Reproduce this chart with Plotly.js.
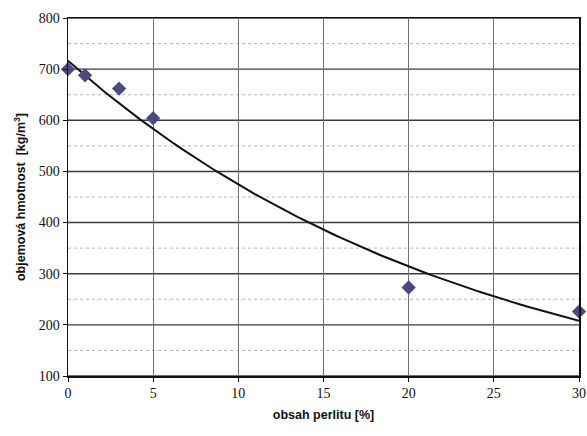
<!DOCTYPE html>
<html>
<head>
<meta charset="utf-8">
<script src="https://cdn.plot.ly/plotly-3.0.1.min.js"></script>
<style>
  html, body { margin: 0; padding: 0; background: #fff; }
  #chart { width: 587px; height: 436px; }
</style>
</head>
<body>
<div id="chart"></div>
<script>
// Measured bulk density vs. perlite content
const perliteContent = [0, 1, 3, 5, 20, 30];          // obsah perlitu [%]
const bulkDensity = [700, 688, 662, 604, 273, 226];   // objemová hmotnost [kg/m3]
const yMajorTicks = [100, 200, 300, 400, 500, 600, 700, 800];
const yMinorTicks = [150, 250, 350, 450, 550, 650, 750];

// Exponential trend line y = a * exp(b x), least squares on ln(y)
function expFit(xs, ys) {
  const n = xs.length;
  const ly = ys.map(v => Math.log(v));
  const mx = xs.reduce((s, v) => s + v, 0) / n;
  const my = ly.reduce((s, v) => s + v, 0) / n;
  let sxx = 0, sxy = 0;
  for (let i = 0; i < n; i++) {
    sxx += (xs[i] - mx) * (xs[i] - mx);
    sxy += (xs[i] - mx) * (ly[i] - my);
  }
  const b = sxy / sxx;
  const a = Math.exp(my - b * mx);
  return { a, b };
}
const fit = expFit(perliteContent, bulkDensity);
const xMin = Math.min(...perliteContent), xMax = Math.max(...perliteContent);
const trendX = [], trendY = [];
for (let i = 0; i <= 120; i++) {
  const x = xMin + (xMax - xMin) * i / 120;
  trendX.push(x);
  trendY.push(fit.a * Math.exp(fit.b * x));
}

const traces = [
  {
    x: trendX, y: trendY, type: 'scatter', mode: 'lines',
    line: { color: '#111111', width: 2 }, hoverinfo: 'skip'
  },
  {
    x: perliteContent, y: bulkDensity, type: 'scatter', mode: 'markers',
    cliponaxis: false,
    marker: { symbol: 'diamond', size: 11, color: '#4a4a7c' }
  }
];

// horizontal grid: solid lines at major ticks, dotted at the half steps
const gridShapes = [];
yMinorTicks.forEach(v => gridShapes.push({
  type: 'line', xref: 'paper', yref: 'y', x0: 0, x1: 1, y0: v, y1: v,
  layer: 'below', line: { color: '#b4b4b4', width: 1, dash: 'dot' }
}));
yMajorTicks.forEach(v => gridShapes.push({
  type: 'line', xref: 'paper', yref: 'y', x0: 0, x1: 1, y0: v, y1: v,
  layer: 'below', line: { color: '#3c3c3c', width: 1.4 }
}));

const tickFont = { family: 'Liberation Serif, serif', size: 14, color: '#111' };
const titleFont = { family: 'Liberation Sans, sans-serif', size: 12.5, color: '#111', weight: 'bold' };

const layout = {
  width: 587, height: 436,
  margin: { l: 68, r: 8, t: 18, b: 60 },
  paper_bgcolor: '#ffffff', plot_bgcolor: '#ffffff',
  showlegend: false,
  shapes: gridShapes,
  xaxis: {
    range: [0, 30], dtick: 5, tick0: 0,
    showgrid: true, gridcolor: '#707070', gridwidth: 1.3,
    zeroline: false,
    showline: true, linecolor: '#111', linewidth: 1.5, mirror: true,
    ticks: 'outside', ticklen: 4, tickcolor: '#111',
    tickfont: tickFont,
    title: { text: '<b>obsah perlitu [%]</b>', font: titleFont, standoff: 10 }
  },
  yaxis: {
    range: [100, 800], tickvals: yMajorTicks,
    showgrid: false,
    zeroline: false,
    showline: true, linecolor: '#111', linewidth: 1.5, mirror: true,
    ticks: 'outside', ticklen: 4, tickcolor: '#111',
    tickfont: tickFont,
    title: { text: '<b>objemová hmotnost  [kg/m<sup>3</sup>]</b>', font: titleFont, standoff: 10 }
  }
};

Plotly.newPlot('chart', traces, layout, { staticPlot: true, displayModeBar: false });
</script>
</body>
</html>
